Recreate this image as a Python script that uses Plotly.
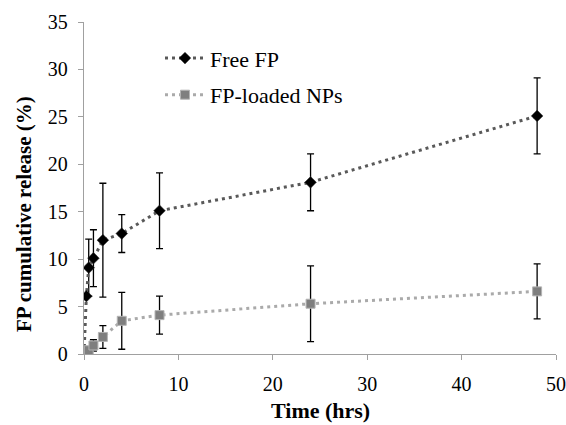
import plotly.graph_objects as go

time_hrs = [0, 0.25, 0.5, 1, 2, 4, 8, 24, 48]
free_fp = [0, 6.1, 9.1, 10.1, 12.0, 12.7, 15.1, 18.1, 25.1]
free_fp_err = [0, 0, 3.0, 3.0, 6.0, 2.0, 4.0, 3.0, 4.0]
np_fp = [0.1, 0.2, 0.4, 0.9, 1.8, 3.5, 4.1, 5.3, 6.6]
np_fp_err = [0, 0, 0, 0.6, 1.2, 3.0, 2.0, 4.0, 2.9]

x_ticks = [0, 10, 20, 30, 40, 50]
y_ticks = [0, 5, 10, 15, 20, 25, 30, 35]

x_title = "Time (hrs)"
y_title = "FP cumulative release (%)"

FONT = "Liberation Serif"

fig = go.Figure()
fig.add_trace(go.Scatter(
    x=time_hrs, y=free_fp, name="Free FP", mode="lines+markers", legendgroup="a",
    line=dict(color="#595959", width=3, dash="3px,4px"),
    marker=dict(symbol="diamond", size=9, color="black", line=dict(color="#303030", width=0.5)),
    error_y=dict(type="data", array=free_fp_err, visible=True, color="black", thickness=1.3, width=3.5),
))
fig.add_trace(go.Scatter(
    x=time_hrs, y=np_fp, name="FP-loaded NPs", mode="lines+markers", legendgroup="b",
    line=dict(color="#aaaaaa", width=3, dash="3px,4px"),
    marker=dict(symbol="square", size=9, color="#7f7f7f", line=dict(color="#b4b4b4", width=1)),
    error_y=dict(type="data", array=np_fp_err, visible=True, color="black", thickness=1.3, width=3.5),
))

axis_common = dict(
    showgrid=False, zeroline=False, showline=True, linecolor="#a0a0a0", linewidth=1.3,
    ticks="outside", tickcolor="#a0a0a0", ticklen=5, tickwidth=1.3, automargin=False,
    ticklabeloverflow="allow",
    tickfont=dict(family=FONT, size=20, color="black"),
)
fig.update_xaxes(range=[0, 50], tickvals=x_ticks, ticklabelstandoff=7, **axis_common)
fig.update_yaxes(range=[0, 35], tickvals=y_ticks, ticklabelstandoff=6, **axis_common)

fig.add_annotation(text="<b>" + x_title + "</b>", xref="paper", yref="paper",
                   x=0.5, y=-0.1687, xanchor="center", yanchor="middle", showarrow=False,
                   font=dict(family=FONT, size=22, color="black"))
fig.add_annotation(text="<b>" + y_title + "</b>", xref="paper", yref="paper",
                   x=-0.127, y=0.4217, xanchor="center", yanchor="middle", showarrow=False,
                   textangle=-90, font=dict(family=FONT, size=21, color="black"))

fig.update_layout(
    width=566, height=425,
    margin=dict(l=84, r=10, t=22, b=71, autoexpand=False),
    plot_bgcolor="white", paper_bgcolor="white",
    font=dict(family=FONT, color="black"),
    legend=dict(x=0.161, y=0.954, xanchor="left", yanchor="top", bgcolor="rgba(0,0,0,0)",
                font=dict(family=FONT, size=22, color="black"), itemwidth=40, tracegroupgap=5),
)

# remove the default 8px page margin so the 566x425 figure fills the window exactly
fig.write_html("out.html", config={"displayModeBar": False},
               post_script="document.body.style.margin='0';document.body.style.overflow='hidden';")
